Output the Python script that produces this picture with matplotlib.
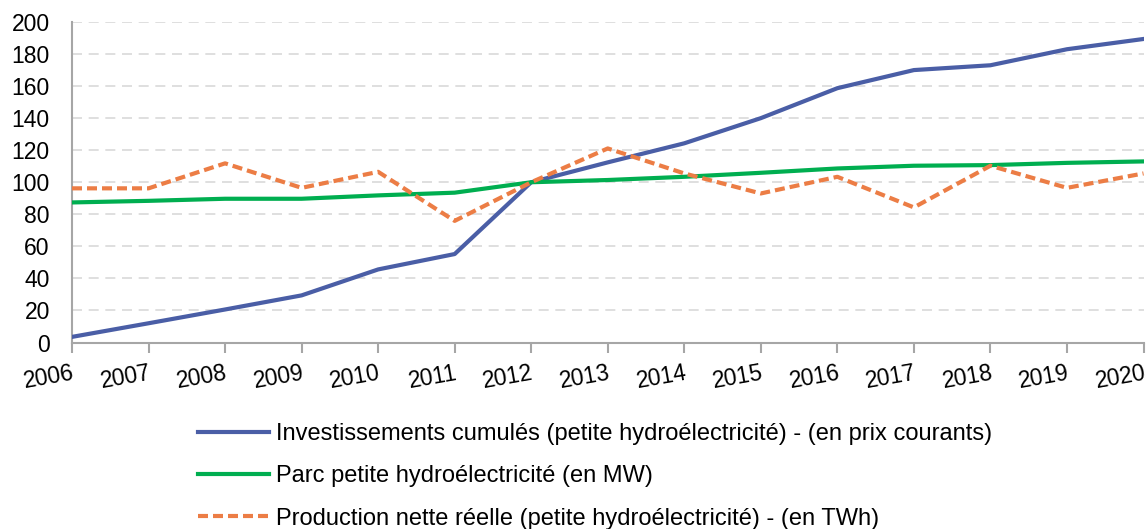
import matplotlib
matplotlib.use("Agg")
import matplotlib.pyplot as plt

years = list(range(2006, 2021))
invest = [3.5, 12, 20.6, 29.4, 45.6, 55.2, 100, 112.4, 124.3, 140, 158.7, 170, 173, 183, 189.4]
parc = [87.4, 88.4, 89.7, 89.7, 91.8, 93.5, 100, 101.4, 103.4, 105.9, 108.6, 110.3, 110.7, 112.1, 113]
prod = [96.2, 96.2, 111.8, 96.5, 106.5, 75.9, 100, 121.1, 105.5, 93, 103.4, 84.3, 110.3, 96.5, 105.5]
labels = [
    "Investissements cumulés (petite hydroélectricité) - (en prix courants)",
    "Parc petite hydroélectricité (en MW)",
    "Production nette réelle (petite hydroélectricité) - (en TWh)",
]

plt.rcParams['font.family'] = ['Liberation Sans', 'DejaVu Sans']

W, H = 1148, 529
fig = plt.figure(figsize=(W / 100, H / 100), dpi=100)
L, R, T, B = 72, 1143.5, 22, 342.5
ax = fig.add_axes([L / W, 1 - B / H, (R - L) / W, (B - T) / H])

ax.plot(years, invest, color='#4A5EA6', lw=3, label=labels[0], zorder=3)
ax.plot(years, parc, color='#00AE50', lw=3, label=labels[1], zorder=3)
ax.plot(years, prod, color='#EC7D45', lw=3, dashes=(2.4, 1.2), label=labels[2], zorder=3)

ax.set_xlim(2006, 2020)
ax.set_ylim(0, 200)
ax.set_yticks(range(0, 201, 20))
ax.set_xticks(years)
ax.set_xticklabels([str(y) for y in years], rotation=10, ha='right', rotation_mode='anchor')
ax.tick_params(axis='y', length=0, labelsize=16.5, pad=16)
ax.tick_params(axis='x', length=7.5, width=1.5, color='#A6A6A6', labelsize=16.5, pad=6)
ax.yaxis.grid(True, color='#D9D9D9', lw=1.2, dashes=(6, 4))
ax.set_axisbelow(True)
for s in ['top', 'right']:
    ax.spines[s].set_visible(False)
for s in ['left', 'bottom']:
    ax.spines[s].set_color('#A6A6A6')
    ax.spines[s].set_linewidth(1.5)

leg = fig.legend(loc='upper left', bbox_to_anchor=(198 / W, 1 - 423 / H), frameon=False,
                 fontsize=17, handlelength=3.0, handletextpad=0.3, labelspacing=0.86,
                 borderpad=0, borderaxespad=0)

fig.savefig('out.png', dpi=100)
